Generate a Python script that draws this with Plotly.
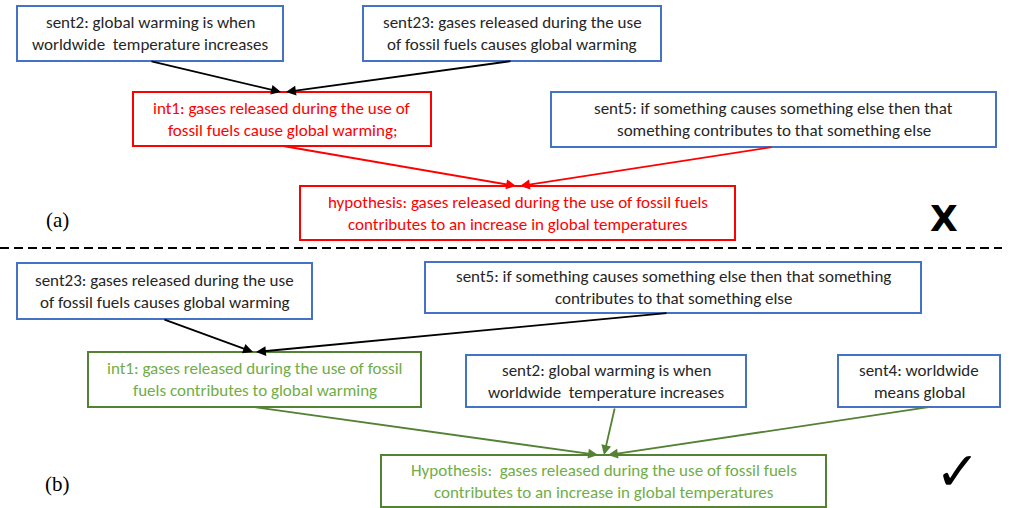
import plotly.graph_objects as go

W, H = 1016, 508

# ---- nodes: (a) panel then (b) panel ----
node_ids = ["a_sent2", "a_sent23", "a_int1", "a_sent5", "a_hyp",
            "b_sent23", "b_sent5", "b_int1", "b_sent2", "b_sent4", "b_hyp"]
node_lines = [
    ["sent2: global warming is when", "worldwide  temperature increases"],
    ["sent23: gases released during the use", "of fossil fuels causes global warming"],
    ["int1: gases released during the use of", "fossil fuels cause global warming;"],
    ["sent5: if something causes something else then that", "something contributes to that something else"],
    ["hypothesis: gases released during the use of fossil fuels", "contributes to an increase in global temperatures"],
    ["sent23: gases released during the use", "of fossil fuels causes global warming"],
    ["sent5: if something causes something else then that something", "contributes to that something else"],
    ["int1: gases released during the use of fossil", "fuels contributes to global warming"],
    ["sent2: global warming is when", "worldwide  temperature increases"],
    ["sent4: worldwide", "means global"],
    ["Hypothesis:  gases released during the use of fossil fuels", "contributes to an increase in global temperatures"],
]
node_x0 = [17, 363, 133, 551, 300, 17, 425, 88, 466, 838, 381]
node_x1 = [283, 661, 431, 996, 735, 312, 921, 421, 746, 1000, 826]
node_y0 = [6, 6, 92, 92, 186, 263, 262, 352, 355, 355, 455]
node_y1 = [61, 61, 146, 147, 240, 319, 313, 407, 407, 407, 507]
node_kind = ["fact", "fact", "bad", "fact", "bad",
             "fact", "fact", "good", "fact", "fact", "good"]

# ---- edges: tail point -> head point ----
edge_tail_x = [150, 512, 283, 773, 163, 668, 253, 615, 930]
edge_tail_y = [61, 61, 146, 147, 319, 313, 407, 407, 407]
edge_head_x = [281, 286, 516, 520, 253, 256, 598, 604, 608]
edge_head_y = [92, 92, 186, 186, 352, 352, 455, 455, 455]
edge_kind = ["fact", "fact", "bad", "bad", "fact", "fact", "good", "good", "good"]

border_col = {"fact": "#4472C4", "bad": "#FF0000", "good": "#548235"}
text_col = {"fact": "#262626", "bad": "#FF0000", "good": "#70AD47"}
arrow_col = {"fact": "#000000", "bad": "#FF0000", "good": "#548235"}

FONT = "Calibri, Carlito, Lato, sans-serif"

fig = go.Figure()
fig.add_trace(go.Scatter(x=[0, W], y=[0, H], mode="markers",
                         marker=dict(opacity=0), hoverinfo="skip", showlegend=False))

shapes = []
annotations = []

for lines, x0, x1, y0, y1, kind in zip(node_lines, node_x0, node_x1, node_y0, node_y1, node_kind):
    shapes.append(dict(type="rect", x0=x0, x1=x1, y0=y0, y1=y1, xref="x", yref="y",
                       line=dict(color=border_col[kind], width=2), fillcolor="white", layer="below"))
    cx = (x0 + x1) / 2
    cy = (y0 + y1) / 2
    offs = [-11, 11]
    for ln, off in zip(lines, offs):
        annotations.append(dict(x=cx, y=cy + off, xref="x", yref="y", text=ln, showarrow=False,
                                font=dict(family=FONT, size=17, color=text_col[kind]),
                                xanchor="center", yanchor="middle"))

for tx, ty, hx, hy, kind in zip(edge_tail_x, edge_tail_y, edge_head_x, edge_head_y, edge_kind):
    annotations.append(dict(x=hx, y=hy, ax=tx, ay=ty, xref="x", yref="y", axref="x", ayref="y",
                            text="", showarrow=True, arrowhead=2, arrowsize=1.1, arrowwidth=1.8,
                            arrowcolor=arrow_col[kind], standoff=0, startstandoff=0))

# separator
shapes.append(dict(type="line", x0=0, x1=1002, y0=248, y1=248, xref="x", yref="y",
                   line=dict(color="black", width=2, dash="9px,5px")))

# panel labels and marks
annotations.append(dict(x=57, y=220, xref="x", yref="y", text="(a)", showarrow=False,
                        font=dict(family="Liberation Serif", size=21, color="black")))
annotations.append(dict(x=57, y=484, xref="x", yref="y", text="(b)", showarrow=False,
                        font=dict(family="Liberation Serif", size=21, color="black")))
annotations.append(dict(x=944, y=218, xref="x", yref="y", text="<b>X</b>", showarrow=False,
                        font=dict(family="DejaVu Sans", size=36, color="black")))
annotations.append(dict(x=957, y=471, xref="x", yref="y", text="✓", showarrow=False,
                        font=dict(family="DejaVu Sans", size=54, color="black")))

fig.update_layout(
    width=W, height=H,
    margin=dict(l=0, r=0, t=0, b=0),
    paper_bgcolor="white", plot_bgcolor="white",
    xaxis=dict(range=[0, W], visible=False, fixedrange=True),
    yaxis=dict(range=[H, 0], visible=False, fixedrange=True),
    shapes=shapes, annotations=annotations, showlegend=False,
)

fig.write_html("out.html", config={"displayModeBar": False},
               post_script="document.body.style.margin='0';document.body.style.overflow='hidden';")
